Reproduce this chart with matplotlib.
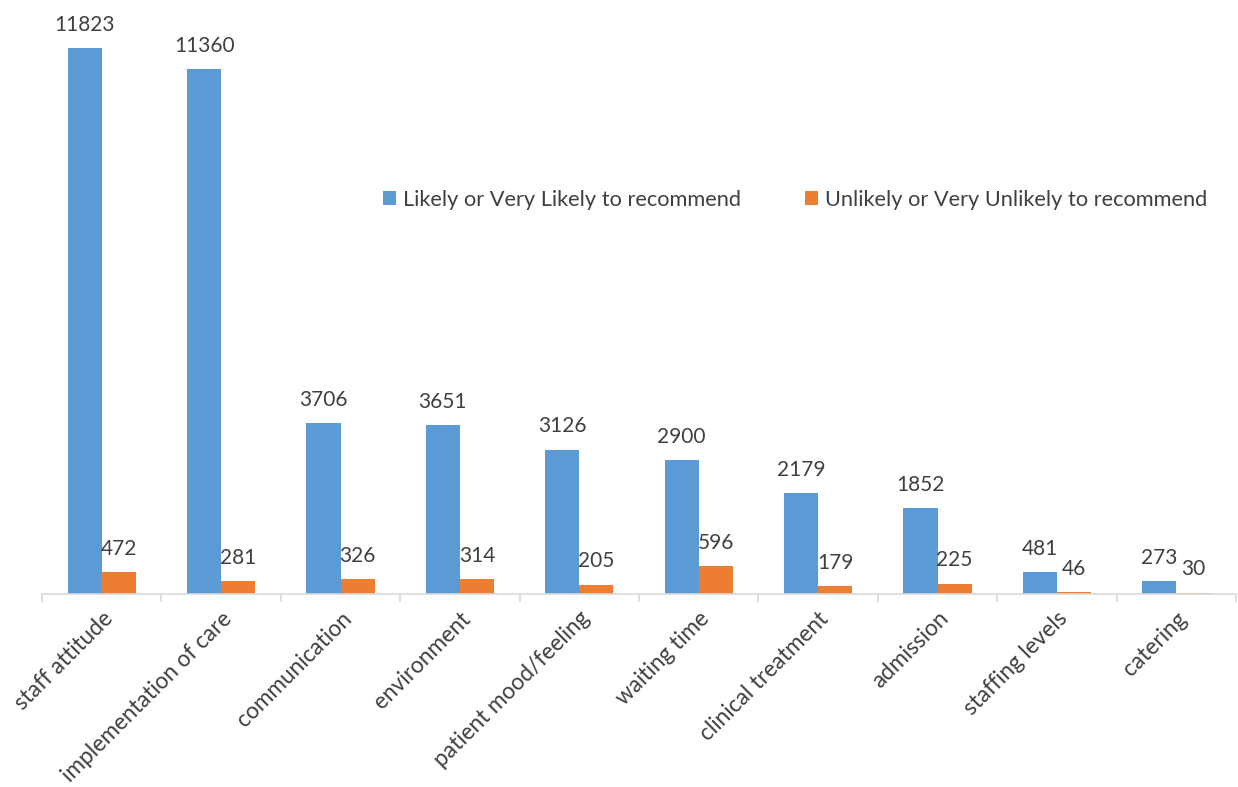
import matplotlib.pyplot as plt
import numpy as np

categories = ["staff attitude", "implementation of care", "communication", "environment",
              "patient mood/feeling", "waiting time", "clinical treatment", "admission",
              "staffing levels", "catering"]
likely = [11823, 11360, 3706, 3651, 3126, 2900, 2179, 1852, 481, 273]
unlikely = [472, 281, 326, 314, 205, 596, 179, 225, 46, 30]
series_names = ["Likely or Very Likely to recommend", "Unlikely or Very Unlikely to recommend"]

BLUE = "#5B9BD5"
ORANGE = "#ED7D31"
TEXT = "#404040"
AXIS = "#D9D9D9"

plt.rcParams["font.family"] = ["Lato", "DejaVu Sans"]

fig = plt.figure(figsize=(12.38, 7.87), dpi=100)
ax = fig.add_axes([42 / 1238, 1 - 594 / 787, (1236 - 42) / 1238, 554.2 / 787])

x = np.arange(len(categories))
w = 0.285
b1 = ax.bar(x - w / 2, likely, w, color=BLUE, label=series_names[0])
b2 = ax.bar(x + w / 2, unlikely, w, color=ORANGE, label=series_names[1])

for bars, vals in ((b1, likely), (b2, unlikely)):
    for r, v in zip(bars, vals):
        ax.annotate(str(v), (r.get_x() + r.get_width() / 2, v), xytext=(0, 9.5),
                    textcoords="offset points", ha="center", va="bottom",
                    fontsize=15, color=TEXT)

ax.set_xlim(-0.5, len(categories) - 0.5)
ax.set_ylim(0, 12000)

for s in ("top", "right", "left"):
    ax.spines[s].set_visible(False)
ax.spines["bottom"].set_color(AXIS)
ax.spines["bottom"].set_linewidth(1.2)
ax.set_yticks([])

ax.set_xticks(np.arange(-0.5, len(categories)), minor=False)
ax.set_xticklabels([])
ax.tick_params(axis="x", which="major", length=6, color=AXIS, width=1.2)
ax.set_xticks(x, minor=True)
ax.set_xticklabels(categories, minor=True, rotation=45, ha="right", va="top",
                   rotation_mode="anchor", fontsize=16.3, color=TEXT)
ax.tick_params(axis="x", which="minor", length=0, pad=10)

# one legend entry per series, placed side by side
for handle, xpos in ((b1, 376), (b2, 798)):
    fig.legend(handles=[handle], loc="center left",
               bbox_to_anchor=(xpos / 1238, 1 - 200 / 787),
               frameon=False, fontsize=15.7, labelcolor=TEXT,
               handlelength=0.6, handleheight=0.6, handletextpad=0.35,
               borderaxespad=0, borderpad=0.3)

fig.savefig("out.png", dpi=100, facecolor="white")
